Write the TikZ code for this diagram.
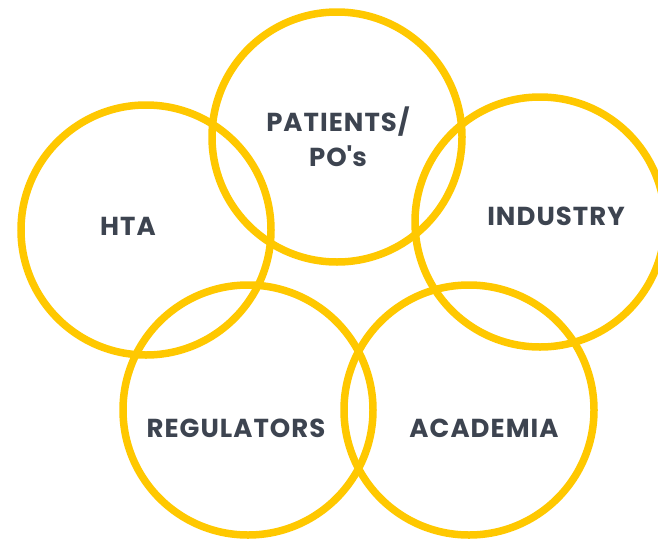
\documentclass[tikz,border=0pt]{standalone}
\usepackage{fontspec}
\setmainfont{Poppins}[BoldFont={Poppins Bold}]
\definecolor{ring}{HTML}{FFC800}
\definecolor{txt}{HTML}{3D4450}
\begin{document}
\begin{tikzpicture}[x=1pt,y=-1pt,
  ring/.style={circle,draw=ring,line width=7.5pt,minimum size=250pt,inner sep=0pt},
  lbl/.style={text=txt,font=\bfseries\fontsize{26}{35}\selectfont\addfontfeatures{LetterSpace=4},align=center,inner sep=0pt}]
\useasboundingbox (0,0) rectangle (658,541);
\node[ring] (pat) at (337,137) {};
\node[ring] (hta) at (146,230) {};
\node[ring] (ind) at (540,222) {};
\node[ring] (reg) at (248,410) {};
\node[ring] (aca) at (469,410) {};
\node[lbl] (tpat) at (338,137) {PATIENTS/\\PO\textquotesingle s};
\node[lbl] (thta) at (128,226) {HTA};
\node[lbl] (tind) at (556,216) {INDUSTRY};
\node[lbl] (treg) at (236,428) {REGULATORS};
\node[lbl] (taca) at (484,428) {ACADEMIA};
\end{tikzpicture}
\end{document}
